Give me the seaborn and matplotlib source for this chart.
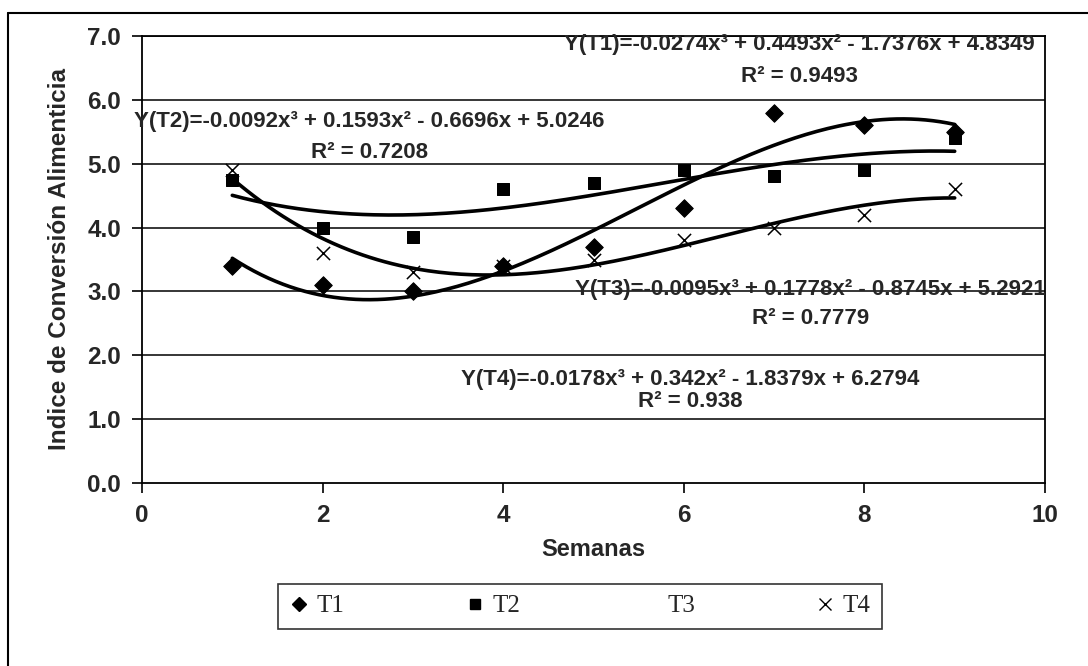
import numpy as np
import pandas as pd
import matplotlib
matplotlib.use("Agg")
import matplotlib.pyplot as plt
import seaborn as sns
from matplotlib.lines import Line2D

# weekly feed conversion index per treatment
semanas = [1, 2, 3, 4, 5, 6, 7, 8, 9]
t1 = [3.4, 3.1, 3.0, 3.4, 3.7, 4.3, 5.8, 5.6, 5.5]
t2 = [4.75, 4.0, 3.85, 4.6, 4.7, 4.9, 4.8, 4.9, 5.4]
t4 = [4.9, 3.6, 3.3, 3.4, 3.5, 3.8, 4.0, 4.2, 4.6]

# cubic trend line coefficients printed on the chart (x^3, x^2, x, 1)
coef_t1 = [-0.0274, 0.4493, -1.7376, 4.8349]
coef_t2 = [-0.0092, 0.1593, -0.6696, 5.0246]
coef_t3 = [-0.0095, 0.1778, -0.8745, 5.2921]
coef_t4 = [-0.0178, 0.342, -1.8379, 6.2794]
r2 = {"T1": 0.9493, "T2": 0.7208, "T3": 0.7779, "T4": 0.938}

y_ticks = [0, 1, 2, 3, 4, 5, 6, 7]
x_ticks = [0, 2, 4, 6, 8, 10]

sns.set_style("white")
plt.rcParams["font.family"] = ["Liberation Sans", "DejaVu Sans"]

fig = plt.figure(figsize=(10.88, 6.66), dpi=100)
ax = fig.add_axes([142 / 1088, 1 - 483 / 666, (1045 - 142) / 1088, (483 - 36) / 666])

for yv in y_ticks[1:]:
    ax.axhline(yv, color="black", lw=1.1, zorder=0)

# trend lines (T3 trend line is not visible in the original)
xs = np.linspace(1, 9, 200)
for coef in [coef_t1, coef_t2, coef_t4]:
    trend = pd.DataFrame({"x": xs, "y": np.polyval(coef, xs)})
    sns.lineplot(data=trend, x="x", y="y", color="black", lw=2.6, ax=ax, zorder=2)

pts = pd.DataFrame({"semana": semanas, "T1": t1, "T2": t2, "T4": t4})
sns.scatterplot(data=pts, x="semana", y="T1", marker="D", s=80, color="black",
                edgecolor="black", ax=ax, zorder=3)
sns.scatterplot(data=pts, x="semana", y="T2", marker="s", s=80, color="black",
                edgecolor="black", ax=ax, zorder=3)
sns.scatterplot(data=pts, x="semana", y="T4", marker="x", s=90, color="black",
                linewidth=1.1, ax=ax, zorder=3)


def eq_text(name, coef):
    a, b, c, d = coef
    s = f"Y({name})=-{abs(a):.4f}x³ + {b:.4f}x² - {abs(c):.4f}x + {d:.4f}"
    return s.replace("0.3420", "0.342")


labels = [("T1", coef_t1, 7.28, 6.86, 6.36),
          ("T2", coef_t2, 2.52, 5.66, 5.17),
          ("T3", coef_t3, 7.4, 3.03, 2.57),
          ("T4", coef_t4, 6.07, 1.62, 1.28)]
for name, coef, xc, ye, yr in labels:
    ax.text(xc, ye, eq_text(name, coef), ha="center", va="center",
            fontsize=16, fontweight="bold", zorder=4)
    ax.text(xc, yr, f"R² = {r2[name]}", ha="center", va="center",
            fontsize=16, fontweight="bold", zorder=4)

ax.set_xlim(0, 10)
ax.set_ylim(0, 7)
ax.set_xticks(x_ticks)
ax.set_yticks(y_ticks)
ax.set_yticklabels([f"{v:.1f}" for v in y_ticks])
ax.tick_params(axis="both", direction="out", length=7, width=1.2, color="black",
               labelsize=17.5, pad=8, left=True, bottom=True)
for lab in ax.get_xticklabels() + ax.get_yticklabels():
    lab.set_fontweight("bold")
for sp in ax.spines.values():
    sp.set_color("black")
    sp.set_linewidth(1.3)
    sp.set_visible(True)

ax.set_xlabel("Semanas", fontsize=17, fontweight="bold", labelpad=8)
ax.set_ylabel("Indice de Conversión Alimenticia", fontsize=17.5, fontweight="bold", labelpad=12)

handles = [
    Line2D([], [], marker="D", color="black", linestyle="none", markersize=7),
    Line2D([], [], marker="s", color="black", linestyle="none", markersize=7),
    Line2D([], [], marker="", color="white", linestyle="none"),
    Line2D([], [], marker="x", color="black", linestyle="none", markersize=9),
]
leg = fig.legend(handles, ["T1", "T2", "T3", "T4"], ncol=4, loc="center",
                 bbox_to_anchor=(580 / 1088, 1 - 606 / 666), frameon=True,
                 fancybox=False, edgecolor="black", handlelength=0.8,
                 handletextpad=0.3, columnspacing=4.8, borderpad=0.45,
                 prop={"family": "Liberation Serif", "size": 18})
leg.get_frame().set_linewidth(1.2)

# outer frame of the chart area (left and top edges)
fig.add_artist(Line2D([8 / 1088, 8 / 1088], [0, 1 - 13 / 666], color="black",
                      lw=1.5, transform=fig.transFigure))
fig.add_artist(Line2D([8 / 1088, 1], [1 - 13 / 666, 1 - 13 / 666], color="black",
                      lw=1.5, transform=fig.transFigure))

fig.savefig("out.png", dpi=100)
